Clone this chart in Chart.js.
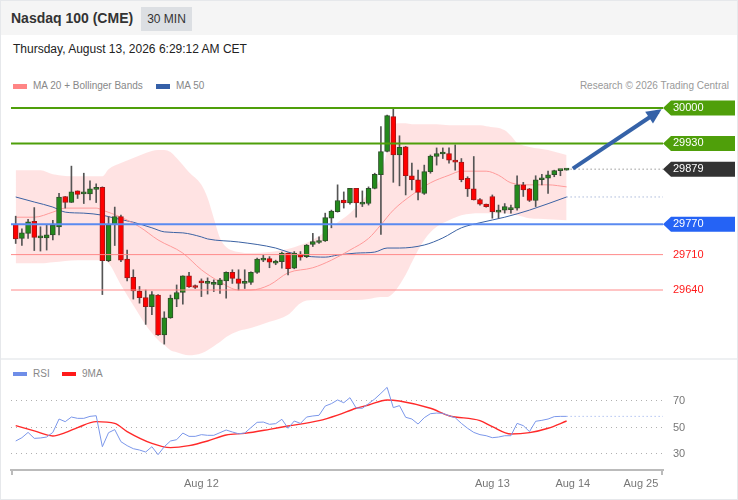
<!DOCTYPE html>
<html>
<head>
<meta charset="utf-8">
<script src="https://cdn.jsdelivr.net/npm/chart.js@4.4.1/dist/chart.umd.min.js"></script>
<style>
  html, body { margin: 0; padding: 0; background: #fff; }
  body { font-family: Arial, "Liberation Sans", Helvetica, sans-serif; }
  #wrap { position: relative; width: 738px; height: 500px; overflow: hidden; background: #fff; }
  #frame { position: absolute; left: 0; top: 0; width: 738px; height: 500px; box-sizing: border-box;
           border: 1px solid #e6e8eb; pointer-events: none; }
  #head { position: absolute; left: 0; top: 0; width: 738px; height: 35px; background: #f5f5f5; }
  #title { position: absolute; left: 11px; top: 0; line-height: 37px; font-size: 14px; font-weight: bold; color: #333; }
  #badge { position: absolute; left: 141px; top: 7px; width: 51px; height: 24px; line-height: 24px;
           text-align: center; font-size: 12px; color: #333; background: #dcdfe3; }
  #date { position: absolute; left: 13px; top: 42px; line-height: 14px; font-size: 12px; color: #222; }
  .lg { position: absolute; font-size: 10px; line-height: 12px; color: #888; white-space: nowrap; }
  .box { position: absolute; width: 14px; height: 5px; }
  #credit { position: absolute; right: 9px; top: 80px; font-size: 10px; line-height: 12px; color: #999; }
  #sep { position: absolute; left: 0; top: 358px; width: 738px; height: 2px; background: #eef0f2; }
  canvas { position: absolute; left: 0; }
  #main { top: 96px; }
  #rsi { top: 380px; }
</style>
</head>
<body>
<div id="wrap">
  <div id="head">
    <div id="title">Nasdaq 100 (CME)</div>
    <div id="badge">30 MIN</div>
  </div>
  <div id="date">Thursday, August 13, 2026 6:29:12 AM CET</div>

  <div class="box" style="left:13px;top:84px;background:#ff8585;"></div>
  <div class="lg" style="left:33px;top:80px;">MA 20 + Bollinger Bands</div>
  <div class="box" style="left:156px;top:84px;background:#3560a8;"></div>
  <div class="lg" style="left:176px;top:80px;">MA 50</div>
  <div id="credit">Research © 2026 Trading Central</div>

  <canvas id="main" width="738" height="261"></canvas>
  <div id="sep"></div>

  <div class="box" style="left:13px;top:372px;height:4px;background:#6f8ee8;"></div>
  <div class="lg" style="left:33px;top:368px;">RSI</div>
  <div class="box" style="left:62px;top:372px;height:4px;background:#ff1a1a;"></div>
  <div class="lg" style="left:82px;top:368px;">9MA</div>

  <canvas id="rsi" width="738" height="120"></canvas>
  <div id="frame"></div>
</div>

<script>
// 30 min candles, index 0 = first bar on screen
const opens = [29770,29742,29752,29776,29743,29743,29749,29765,29825,29813,
  29836,29830,29830,29839,29843,29698,29769,29785,29701,29665,
  29638,29625,29607,29630,29551,29585,29622,29635,29668,29647,
  29658,29653,29651,29650,29658,29675,29662,29653,29655,29675,
  29699,29702,29693,29696,29713,29683,29711,29706,29730,29734,
  29737,29782,29795,29818,29812,29841,29810,29811,29841,29868,
  29914,29983,29907,29923,29866,29858,29831,29874,29904,29909,
  29910,29897,29893,29861,29840,29819,29810,29825,29794,29798,
  29799,29802,29848,29840,29817,29858,29861,29868,29876,29877];
const highs = [29786,29761,29780,29803,29765,29769,29778,29831,29825,29885,
  29836,29871,29856,29850,29844,29785,29804,29788,29719,29680,
  29647,29640,29637,29631,29597,29630,29650,29668,29675,29650,
  29662,29664,29660,29663,29676,29680,29680,29680,29676,29703,
  29709,29706,29699,29715,29713,29716,29716,29730,29752,29745,
  29792,29798,29848,29834,29841,29841,29836,29844,29871,29963,
  29986,29998,29945,29924,29891,29877,29887,29907,29921,29921,
  29921,29927,29900,29864,29904,29821,29810,29828,29808,29811,
  29808,29866,29853,29841,29866,29869,29875,29877,29877,29879];
const lows = [29732,29728,29742,29718,29717,29719,29739,29749,29802,29813,
  29821,29811,29818,29813,29631,29696,29728,29696,29658,29622,
  29614,29572,29591,29550,29533,29584,29607,29612,29645,29643,
  29627,29632,29637,29633,29624,29653,29640,29643,29651,29673,
  29696,29684,29690,29683,29670,29682,29699,29704,29726,29732,
  29736,29763,29794,29802,29810,29784,29805,29808,29840,29750,
  29913,29853,29846,29828,29838,29818,29829,29871,29887,29900,
  29891,29877,29854,29825,29818,29808,29804,29782,29782,29792,
  29792,29798,29825,29815,29805,29848,29831,29864,29866,29877];
const closes = [29741,29753,29775,29744,29747,29749,29768,29824,29813,29834,
  29829,29831,29840,29843,29698,29769,29785,29699,29664,29638,
  29625,29607,29631,29551,29585,29624,29635,29668,29646,29645,
  29654,29654,29652,29660,29675,29663,29653,29656,29675,29701,
  29702,29695,29697,29713,29682,29713,29705,29729,29736,29738,
  29783,29796,29817,29812,29841,29812,29812,29841,29869,29914,
  29985,29907,29922,29866,29858,29833,29874,29905,29910,29910,
  29897,29893,29858,29840,29818,29810,29805,29795,29798,29805,
  29802,29848,29838,29817,29858,29862,29868,29876,29877,29879];

// Bollinger bands, read at these bar indices
const bandIdx = [0,4,6,10,14,15,17,19,21,22,23,24,25,26,28,30,31,32,33,34,
  36,38,41,44,46,48,50,51,54,55,57,59,60,61,62,63,64,66,68,70,
  72,75,76,79,80,81,83,86,89];
const bandUpper = [29877,29877,29869,29865,29865,29879,29891,29901,29911,29915,
  29917,29917,29913,29901,29873,29848,29822,29782,29743,29725,
  29715,29713,29715,29721,29729,29739,29755,29765,29792,29804,
  29832,29864,29917,29966,29970,29970,29968,29968,29968,29966,
  29966,29966,29964,29956,29945,29931,29923,29917,29907];
const bandLower = [29693,29693,29695,29699,29699,29693,29650,29610,29571,29555,
  29541,29531,29521,29517,29511,29515,29521,29529,29537,29547,
  29559,29565,29577,29591,29614,29620,29620,29620,29620,29620,
  29622,29626,29626,29634,29650,29670,29695,29739,29765,29778,
  29788,29792,29792,29792,29790,29788,29782,29780,29778];

const ma20Idx = [0,3,6,8,13,14,17,20,23,27,30,33,36,38,41,44,48,51,54,57,
  59,61,64,67,70,72,76,78,80,83,86,89];
const ma20Val = [29784,29784,29794,29802,29802,29798,29784,29765,29739,29713,
  29680,29656,29640,29640,29650,29674,29684,29699,29719,29742,
  29769,29798,29828,29852,29867,29875,29875,29867,29852,29848,29848,29844];

const ma50Idx = [0,3,6,8,11,14,16,19,22,24,27,30,31,36,42,44,47,50,52,55,
  58,60,62,66,69,72,75,79,83,89];
const ma50Val = [29824,29814,29804,29794,29792,29788,29782,29774,29763,29755,
  29753,29745,29741,29735,29723,29715,29707,29705,29709,29713,
  29715,29723,29723,29729,29743,29763,29773,29784,29798,29824];

// support / resistance levels and right-hand tags
const levelValues = [30000, 29930, 29770, 29710, 29640];
const tagValues = [30000, 29930, 29879, 29770, 29710, 29640];

// forecast arrow (bar index, price)
const arrowIdx = [90, 103.8];
const arrowPrice = [29880, 29993];

// RSI panel
const rsiVals = [39.8,42.3,46.3,41.8,42.1,42.8,46.3,56.4,54.4,57.9,
  56.9,56.9,58.4,58.9,35.5,46.1,48.4,39.3,36.3,34,
  33,31.5,35.5,29.5,35.5,39.8,40.8,45.8,43.3,43.3,
  44.6,44.1,44.1,46.1,48.1,46.6,45.3,45.8,49.9,53.9,
  54.1,52.4,52.9,56.2,49.4,54.9,53.1,57.9,58.7,59.2,
  66.2,68,70.8,68.7,72.5,64.7,64.5,68,71.5,75.8,
  80.3,65,66.5,57.7,56.4,52.6,57.4,60.4,60.9,60.7,
  58.9,57.4,53.1,49.4,46.3,44.6,43.8,42.3,42.8,43.8,
  43.8,53.1,51.4,46.9,54.7,55.4,56.4,58.2,58.4,58.4];
const ma9Idx = [0,3,6,8,10,13,16,18,22,25,28,31,34,37,41,44,49,52,55,57,
  60,62,67,70,75,77,80,83,86,89];
const ma9Val = [51.4,47.4,43.6,46.1,49.9,54.4,53.1,46.9,38,34.8,
  36.3,39.8,44.3,45.6,48.6,51.1,55.2,59.4,64.5,67,
  70.8,70,64.5,58.9,55.2,50.6,45.1,46.1,49.4,54.9];
const rsiTicks = [30, 50, 70];
const tickIdx = [30, 77, 90, 101];
const tickLabels = ["Aug 12", "Aug 13", "Aug 14", "Aug 25"];

// scale ranges (chosen so the panels line up with the page)
const xMin = -0.76, xMax = 104.57;
const priceMin = 29507.5, priceMax = 30023.7;
const rsiMin = 17.92, rsiMax = 85.85;

// styles
const green = "#4f9f0a";
const levelColors = [green, green, "#5a8af0", "#ff8a8a", "#ff8a8a"];
const levelWidths = [2, 2, 2, 1, 1];
const tagFill = [green, green, "#333333", "#2563f5", null, null];
const tagText = ["#fff", "#fff", "#fff", "#fff", "#ff1a1a", "#ff1a1a"];

Chart.defaults.font.family = 'Arial, "Liberation Sans", Helvetica, sans-serif';
Chart.defaults.font.size = 11;
Chart.defaults.color = "#777";

const pts = (xs, ys) => xs.map((x, i) => ({ x: x, y: ys[i] }));
const last = (a) => a[a.length - 1];

const up = opens.map((o, i) => closes[i] >= o);
const bodyData = opens.map((o, i) => ({ x: i, y: [o, closes[i]] }));
const wickData = opens.map((o, i) => ({ x: i, y: [lows[i], highs[i]] }));

const levelSets = levelValues.map((v, i) => ({
  type: "line",
  label: "level " + v,
  data: [{ x: xMin, y: v }, { x: xMax, y: v }],
  borderColor: levelColors[i],
  borderWidth: levelWidths[i],
  pointRadius: 0,
  order: 1,
}));

// tag shapes behind the axis labels, and arrow head
const mainPlugin = {
  id: "mainExtras",
  beforeDraw(chart) {
    const { ctx, chartArea } = chart;
    const y = chart.scales.y;
    tagValues.forEach((v, i) => {
      if (!tagFill[i]) return;
      const py = y.getPixelForValue(v);
      const x0 = chartArea.right, x1 = x0 + 8, x2 = chart.width - 3;
      ctx.save();
      ctx.fillStyle = tagFill[i];
      ctx.beginPath();
      ctx.moveTo(x0, py);
      ctx.lineTo(x1, py - 7.5);
      ctx.lineTo(x2, py - 7.5);
      ctx.lineTo(x2, py + 7.5);
      ctx.lineTo(x1, py + 7.5);
      ctx.closePath();
      ctx.fill();
      ctx.restore();
    });
  },
  afterDatasetsDraw(chart) {
    const i = chart.data.datasets.findIndex((d) => d.label === "arrow");
    const p = chart.getDatasetMeta(i).data;
    const a = p[p.length - 2], b = p[p.length - 1];
    const ang = Math.atan2(b.y - a.y, b.x - a.x);
    const ctx = chart.ctx;
    ctx.save();
    ctx.translate(b.x + Math.cos(ang) * 4, b.y + Math.sin(ang) * 4);
    ctx.rotate(ang);
    ctx.fillStyle = "#3562a8";
    ctx.beginPath();
    ctx.moveTo(0, 0);
    ctx.lineTo(-15, -7);
    ctx.lineTo(-15, 7);
    ctx.closePath();
    ctx.fill();
    ctx.restore();
  },
};

new Chart(document.getElementById("main"), {
  type: "bar",
  data: {
    datasets: [
      {
        type: "line", label: "bbUpper", data: pts(bandIdx, bandUpper),
        borderColor: "rgba(0,0,0,0)", pointRadius: 0, fill: "+1",
        backgroundColor: "rgba(255,188,188,0.42)", cubicInterpolationMode: "monotone", order: 20,
      },
      {
        type: "line", label: "bbLower", data: pts(bandIdx, bandLower),
        borderColor: "rgba(0,0,0,0)", pointRadius: 0, fill: false,
        cubicInterpolationMode: "monotone", order: 21,
      },
      {
        type: "line", label: "MA 20", data: pts(ma20Idx, ma20Val),
        borderColor: "#ff9a9a", borderWidth: 1, pointRadius: 0,
        cubicInterpolationMode: "monotone", order: 10,
      },
      {
        type: "line", label: "MA 50", data: pts(ma50Idx, ma50Val),
        borderColor: "#3b62a3", borderWidth: 1, pointRadius: 0,
        cubicInterpolationMode: "monotone", order: 10,
      },
      {
        type: "line", label: "MA 50 ext",
        data: [{ x: last(ma50Idx), y: last(ma50Val) }, { x: xMax, y: last(ma50Val) }],
        borderColor: "#8096c8", borderWidth: 1, borderDash: [1, 3], pointRadius: 0, order: 10,
      },
      {
        type: "line", label: "price ext",
        data: [{ x: closes.length - 1, y: last(closes) }, { x: xMax, y: last(closes) }],
        borderColor: "#666", borderWidth: 1, borderDash: [1, 3], pointRadius: 0, order: 10,
      },
      {
        label: "wicks", data: wickData, backgroundColor: "#555", borderWidth: 0,
        barThickness: 1, grouped: false, order: 3,
      },
      {
        label: "bodies", data: bodyData,
        backgroundColor: up.map((u) => (u ? "#238a1c" : "#ff0000")),
        borderColor: up.map((u) => (u ? "#2f4f2a" : "#a01818")),
        borderWidth: 1, borderSkipped: false, barThickness: 5, minBarLength: 2,
        grouped: false, order: 2,
      },
      ...levelSets,
      {
        type: "line", label: "arrow", data: pts(arrowIdx, arrowPrice),
        borderColor: "#3562a8", borderWidth: 4, pointRadius: 0, order: 0,
      },
    ],
  },
  options: {
    responsive: false,
    animation: false,
    events: [],
    layout: { padding: { left: 11, right: 0, top: 0, bottom: 0 } },
    plugins: { legend: { display: false }, tooltip: { enabled: false } },
    scales: {
      x: { type: "linear", min: xMin, max: xMax, display: false, offset: false },
      y: {
        type: "linear", position: "right", min: priceMin, max: priceMax,
        grid: { display: false, drawTicks: false },
        border: { display: false },
        ticks: {
          padding: 10, autoSkip: false, font: { size: 11 },
          color: (c) => tagText[c.index],
          callback: (v) => String(v),
        },
        afterBuildTicks: (s) => { s.ticks = tagValues.map((v) => ({ value: v })); },
        afterFit: (s) => { s.width = 75; s.paddingTop = 0; s.paddingBottom = 0; },
      },
    },
  },
  plugins: [mainPlugin],
});

// small end ticks of the time axis
const axisEnds = {
  id: "axisEnds",
  afterDraw(chart) {
    const { ctx, chartArea } = chart;
    ctx.save();
    ctx.strokeStyle = "#bbb";
    ctx.lineWidth = 2;
    [chartArea.left + 1, chartArea.right - 1].forEach((x) => {
      ctx.beginPath();
      ctx.moveTo(x, chartArea.bottom);
      ctx.lineTo(x, chartArea.bottom + 5);
      ctx.stroke();
    });
    ctx.restore();
  },
};

new Chart(document.getElementById("rsi"), {
  type: "line",
  data: {
    datasets: [
      {
        label: "RSI", data: rsiVals.map((v, i) => ({ x: i, y: v })),
        borderColor: "#7b97ea", borderWidth: 1, pointRadius: 0, tension: 0,
      },
      {
        label: "RSI ext",
        data: [{ x: rsiVals.length - 1, y: last(rsiVals) }, { x: xMax, y: last(rsiVals) }],
        borderColor: "#8ea5ea", borderWidth: 1, borderDash: [1, 3], pointRadius: 0,
      },
      {
        label: "9MA", data: pts(ma9Idx, ma9Val),
        borderColor: "#ff2a2a", borderWidth: 1.4, pointRadius: 0, cubicInterpolationMode: "monotone",
      },
    ],
  },
  options: {
    responsive: false,
    animation: false,
    events: [],
    layout: { padding: { left: 11, right: 0, top: 0, bottom: 0 } },
    plugins: { legend: { display: false }, tooltip: { enabled: false } },
    scales: {
      x: {
        type: "linear", min: xMin, max: xMax, offset: false,
        grid: { display: false },
        border: { display: true, color: "#bbb", width: 2 },
        ticks: {
          padding: -1, color: "#777", autoSkip: false, maxRotation: 0, font: { size: 11 },
          callback: (v, i) => tickLabels[i],
        },
        afterBuildTicks: (s) => { s.ticks = tickIdx.map((v) => ({ value: v })); },
        afterFit: (s) => { s.height = 30; s.paddingLeft = 0; s.paddingRight = 0; },
      },
      y: {
        type: "linear", position: "right", min: rsiMin, max: rsiMax,
        grid: { color: "#b0b0b0", lineWidth: 1, drawTicks: false },
        border: { display: false, dash: [1, 4] },
        ticks: { padding: 10, color: "#777", font: { size: 11 } },
        afterBuildTicks: (s) => { s.ticks = rsiTicks.map((v) => ({ value: v })); },
        afterFit: (s) => { s.width = 75; s.paddingTop = 0; s.paddingBottom = 0; },
      },
    },
  },
  plugins: [axisEnds],
});
</script>
</body>
</html>
